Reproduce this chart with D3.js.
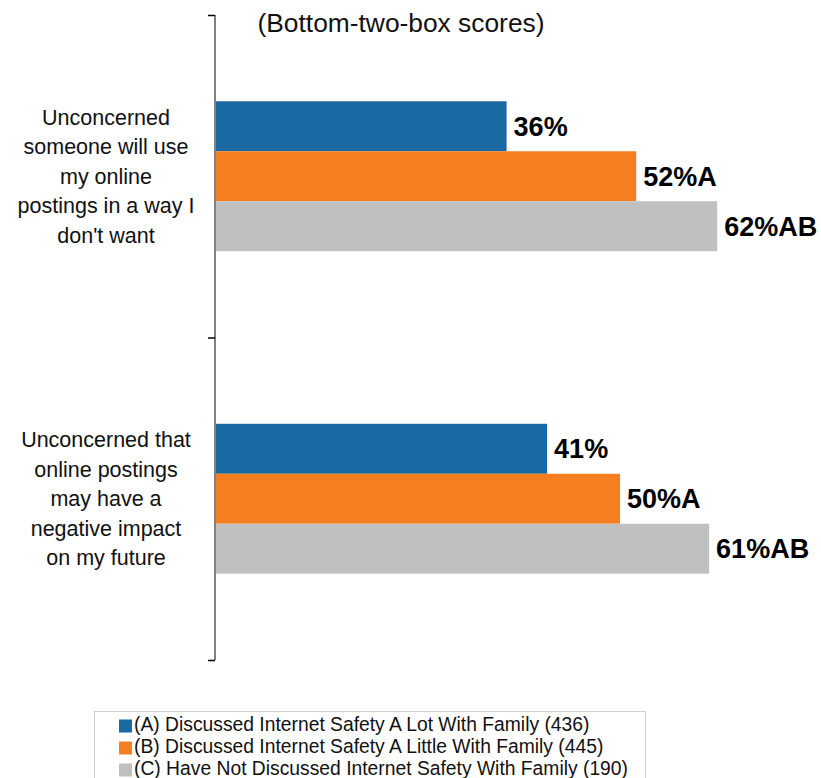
<!DOCTYPE html>
<html>
<head>
<meta charset="utf-8">
<script src="https://cdn.jsdelivr.net/npm/d3@7"></script>
<style>
  body { margin: 0; background: #fff; }
  text { font-family: "Liberation Sans", Arial, sans-serif; }
</style>
</head>
<body>
<div id="chart-area"></div>
<script>
const categories = [
  ["Unconcerned", "someone will use", "my online", "postings in a way I", "don't want"],
  ["Unconcerned that", "online postings", "may have a", "negative impact", "on my future"]
]
const seriesNames = [
  "(A) Discussed Internet Safety A Lot With Family (436)",
  "(B) Discussed Internet Safety A Little With Family (445)",
  "(C) Have Not Discussed Internet Safety With Family (190)"
]
const seriesA = [36, 41]
const seriesB = [52, 50]
const seriesC = [62, 61]
const sigLetters = [["", "A", "AB"], ["", "A", "AB"]]
const colors = ["#1B69A3", "#F57E20", "#C0C0C0"]

const WIDTH = 821, HEIGHT = 778
const AXIS_X = 215

const svg = d3.select("#chart-area").append("svg")
  .attr("width", WIDTH)
  .attr("height", HEIGHT)

// Title
svg.append("text")
  .attr("x", 401)
  .attr("y", 32)
  .attr("text-anchor", "middle")
  .style("font-size", "25px")
  .attr("fill", "#111")
  .attr("textLength", 287)
  .attr("lengthAdjust", "spacingAndGlyphs")
  .text("(Bottom-two-box scores)")

const x = d3.scaleLinear()
  .domain([0, 70])
  .range([AXIS_X, AXIS_X + 567])

const y = d3.scaleBand()
  .domain(d3.range(categories.length))
  .range([15, 660])
  .paddingInner(0.535)
  .paddingOuter(0.2675)

const ySub = d3.scaleBand()
  .domain(d3.range(3))
  .range([0, y.bandwidth()])

const rows = categories.map((c, i) => ({
  i, label: c, values: [seriesA[i], seriesB[i], seriesC[i]]
}))

// Bars
const groups = svg.selectAll("g.grp")
  .data(rows)
  .enter().append("g")
  .attr("class", "grp")
  .attr("transform", d => `translate(0, ${y(d.i)})`)

groups.selectAll("rect")
  .data(d => d.values.map((v, s) => ({ v, s, i: d.i })))
  .enter().append("rect")
  .attr("x", x(0))
  .attr("y", d => ySub(d.s))
  .attr("width", d => x(d.v) - x(0))
  .attr("height", ySub.bandwidth())
  .attr("fill", d => colors[d.s])

groups.selectAll("text.val")
  .data(d => d.values.map((v, s) => ({ v, s, i: d.i })))
  .enter().append("text")
  .attr("class", "val")
  .attr("x", d => x(d.v) + 7)
  .attr("y", d => ySub(d.s) + ySub.bandwidth() / 2)
  .attr("dy", "0.36em")
  .style("font-size", "27px")
  .style("font-weight", "bold")
  .attr("fill", "#000")
  .text(d => d.v + "%" + sigLetters[d.i][d.s])

// Category axis
const yAxisCall = d3.axisLeft(d3.scaleLinear().domain([0, 2]).range([15, 660]))
  .tickValues([0, 1, 2])
  .tickSize(7)
  .tickFormat("")
const axisG = svg.append("g")
  .attr("transform", `translate(${AXIS_X}, 0)`)
  .call(yAxisCall)
axisG.select(".domain").attr("stroke", "#808080").attr("stroke-width", 2)
  .attr("d", "M0,15V660")
axisG.selectAll(".tick line").attr("stroke", "#000").attr("stroke-width", 1.5)

// Category labels
rows.forEach(r => {
  const cy = y(r.i) + y.bandwidth() / 2
  const t = svg.append("text")
    .attr("text-anchor", "middle")
    .style("font-size", "21.5px")
    .attr("fill", "#111")
  r.label.forEach((line, k) => {
    t.append("tspan")
      .attr("x", 106)
      .attr("y", cy + (k - (r.label.length - 1) / 2) * 29.5)
      .attr("dy", "0.35em")
      .text(line)
  })
})

// Legend
svg.append("rect")
  .attr("x", 94.5).attr("y", 711.5)
  .attr("width", 551).attr("height", 70)
  .attr("fill", "#fff").attr("stroke", "#d0d0d0")
seriesNames.forEach((name, s) => {
  const ly = 724.5 + s * 22
  svg.append("rect")
    .attr("x", 119).attr("y", ly - 5)
    .attr("width", 13).attr("height", 13)
    .attr("fill", colors[s])
  svg.append("text")
    .attr("x", 134).attr("y", ly)
    .attr("dy", "0.35em")
    .style("font-size", "19.3px")
    .attr("fill", "#111")
    .text(name)
})
</script>
</body>
</html>
